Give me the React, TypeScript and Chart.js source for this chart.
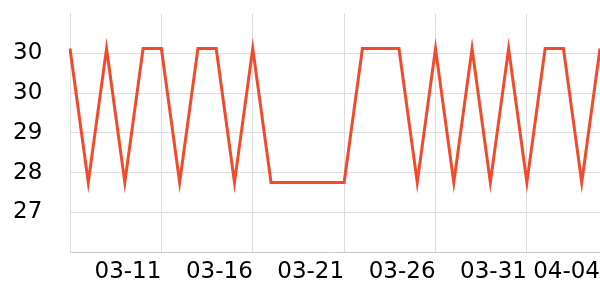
import React, { useEffect, useRef } from "react";
import { Chart, registerables } from "chart.js";

Chart.register(...registerables);

const dates: string[] = [
  "03-06", "03-07", "03-08", "03-09", "03-10", "03-11", "03-12", "03-13", "03-14", "03-15",
  "03-16", "03-17", "03-18", "03-19", "03-20", "03-21", "03-22", "03-23", "03-24", "03-25",
  "03-26", "03-27", "03-28", "03-29", "03-30", "03-31", "04-01", "04-02", "04-03", "04-04",
];

const values: number[] = [
  30.5, 27.8, 30.5, 27.8, 30.5, 30.5, 27.8, 30.5, 30.5, 27.8,
  30.5, 27.8, 27.8, 27.8, 27.8, 27.8, 30.5, 30.5, 30.5, 27.8,
  30.5, 27.8, 30.5, 27.8, 30.5, 27.8, 30.5, 30.5, 27.8, 30.5,
];

const yMin = 26.4;
const yMax = 31.2;
const yStep = 0.8;
const xTickEvery = 5;

export default function App() {
  const ref = useRef<HTMLCanvasElement | null>(null);

  useEffect(() => {
    document.body.style.margin = "0";
    const canvas = ref.current;
    if (!canvas) return;
    const lastIdx = dates.length - 1;
    const chart = new Chart(canvas, {
      type: "line",
      data: {
        labels: dates,
        datasets: [
          {
            data: values,
            borderColor: "#f04b2c",
            borderWidth: 3,
            pointRadius: 0,
            pointHoverRadius: 0,
            tension: 0,
            fill: false,
          },
        ],
      },
      options: {
        responsive: false,
        animation: false,
        layout: { padding: { top: 10, right: 0, left: 13, bottom: 0 } },
        plugins: { legend: { display: false }, tooltip: { enabled: false } },
        scales: {
          x: {
            type: "category",
            offset: false,
            afterBuildTicks: (scale: any) => {
              scale.ticks = scale.ticks.filter(
                (t: any) => t.value % xTickEvery === 0 || t.value === lastIdx
              );
            },
            afterFit: (scale: any) => {
              scale.height = 48;
            },
            grid: {
              color: (ctx: any) =>
                ctx.tick && ctx.tick.value === lastIdx ? "rgba(0,0,0,0)" : "#dddddd",
              lineWidth: 1,
              drawTicks: false,
            },
            border: { display: true, color: "#c8c8c8", width: 1 },
            ticks: {
              autoSkip: false,
              maxRotation: 0,
              minRotation: 0,
              align: "end",
              padding: 0,
              color: "#000000",
              font: { family: "DejaVu Sans", size: 23, lineHeight: 1.72 },
              callback: function (this: any, value: any) {
                const v = Number(value);
                if (v === 0) return null;
                return dates[v];
              },
            },
          },
          y: {
            type: "linear",
            min: yMin,
            max: yMax,
            afterFit: (scale: any) => {
              scale.width = 57;
            },
            grid: {
              color: (ctx: any) =>
                ctx.tick && (Math.abs(ctx.tick.value - yMin) < 1e-6 || Math.abs(ctx.tick.value - yMax) < 1e-6)
                  ? "rgba(0,0,0,0)"
                  : "#dddddd",
              lineWidth: 1,
              drawTicks: false,
            },
            border: { display: true, color: "#dddddd", width: 1 },
            ticks: {
              stepSize: yStep,
              padding: 0,
              crossAlign: "far",
              color: "#000000",
              font: { family: "DejaVu Sans", size: 23 },
              callback: (value: any) => {
                const v = Number(value);
                if (Math.abs(v - yMin) < 1e-6 || Math.abs(v - yMax) < 1e-6) return null;
                return Math.round(v).toString();
              },
            },
          },
        },
      },
    });
    return () => chart.destroy();
  }, []);

  return (
    <div style={{ position: "absolute", left: 0, top: 0, width: 600, height: 300 }}>
      <canvas ref={ref} width={600} height={300} style={{ width: 600, height: 300 }} />
    </div>
  );
}
